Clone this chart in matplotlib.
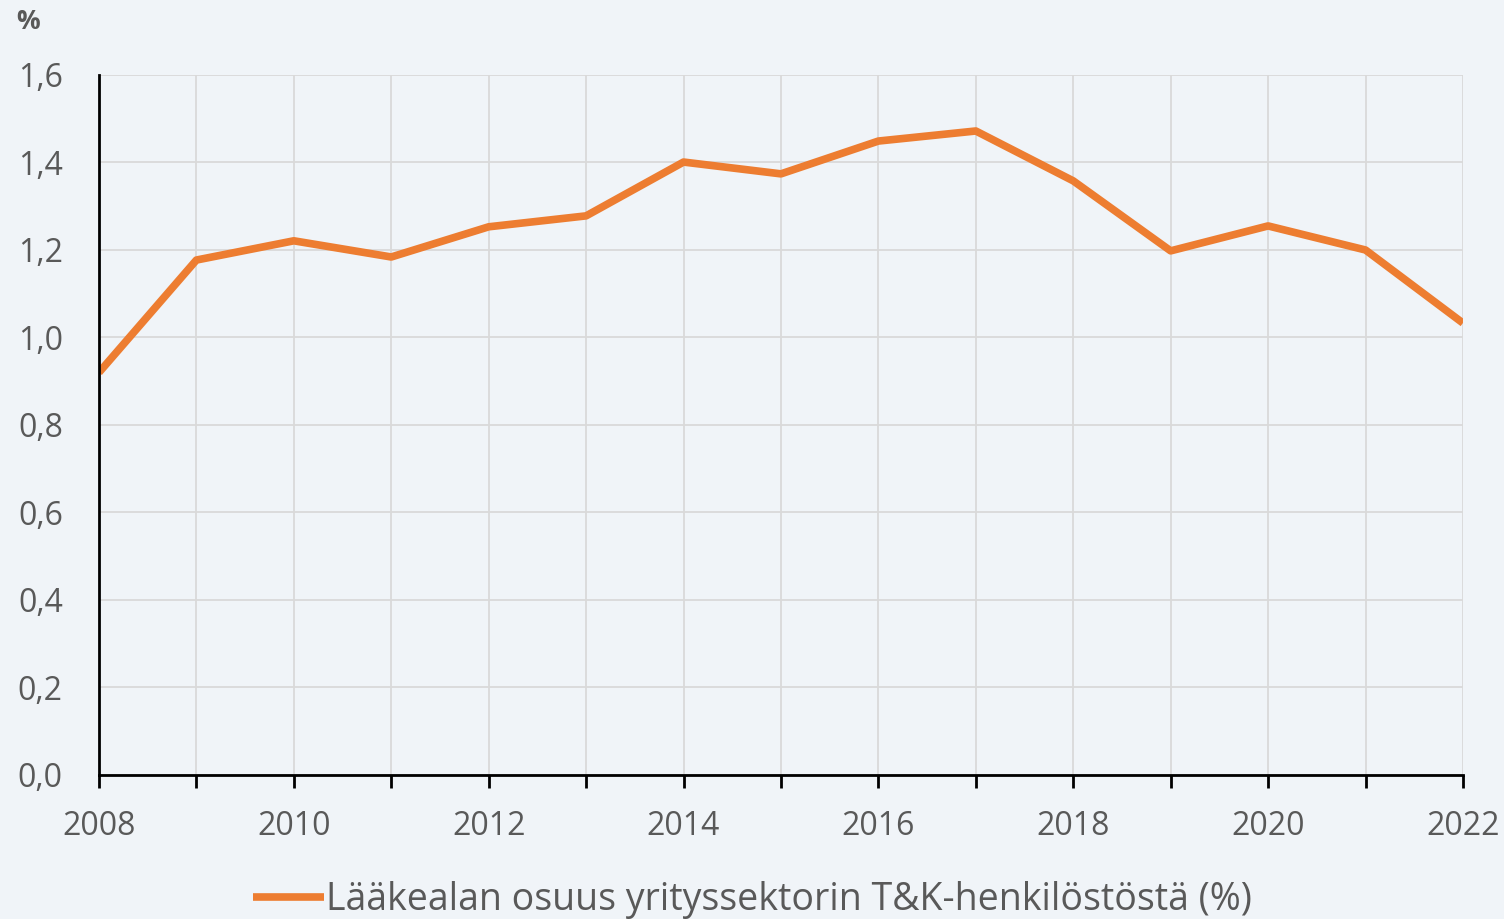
import matplotlib
matplotlib.use("Agg")
import matplotlib.pyplot as plt
from matplotlib.ticker import FuncFormatter, MultipleLocator

years = list(range(2008, 2023))
share = [0.92, 1.177, 1.221, 1.184, 1.253, 1.278, 1.401, 1.374,
         1.449, 1.472, 1.358, 1.198, 1.255, 1.200, 1.033]
label = "Lääkealan osuus yrityssektorin T&K-henkilöstöstä (%)"

bg = "#f0f4f8"
txt = "#595959"
plt.rcParams["font.family"] = ["Open Sans", "DejaVu Sans"]

fig = plt.figure(figsize=(15.04, 9.19), dpi=100, facecolor=bg)
ax = fig.add_axes([0.0658, 0.1567, 0.9069, 0.7617], facecolor=bg)

ax.plot(years, share, color="#ED7D31", lw=5.5, solid_capstyle="butt",
        label=label, zorder=3)

ax.set_xlim(2008, 2022)
ax.set_ylim(0, 1.6)
ax.xaxis.set_major_locator(MultipleLocator(2))
ax.xaxis.set_minor_locator(MultipleLocator(1))
ax.yaxis.set_major_locator(MultipleLocator(0.2))
ax.yaxis.set_major_formatter(FuncFormatter(lambda v, p: f"{v:.1f}".replace(".", ",")))

ax.grid(True, which="both", axis="x", color="#d9d9d9", lw=1.3)
ax.grid(True, which="major", axis="y", color="#d9d9d9", lw=1.3)
ax.set_axisbelow(True)

for s in ("top", "right"):
    ax.spines[s].set_visible(False)
for s in ("left", "bottom"):
    ax.spines[s].set_color("black")
    ax.spines[s].set_linewidth(2)
    ax.spines[s].set_zorder(4)

ax.tick_params(axis="x", which="both", direction="out", length=9, width=2,
               color="black", labelsize=23, labelcolor=txt, pad=16)
ax.tick_params(axis="y", length=0, labelsize=23, labelcolor=txt, pad=26)

fig.text(0.011, 0.977, "%", fontsize=19, fontweight="bold", color=txt,
         va="center", ha="left")

fig.legend(loc="lower center", bbox_to_anchor=(0.5, -0.037), frameon=False,
           fontsize=27, labelcolor=txt, handlelength=1.9, handletextpad=0.05)

fig.savefig("out.png", dpi=100, facecolor=bg)
